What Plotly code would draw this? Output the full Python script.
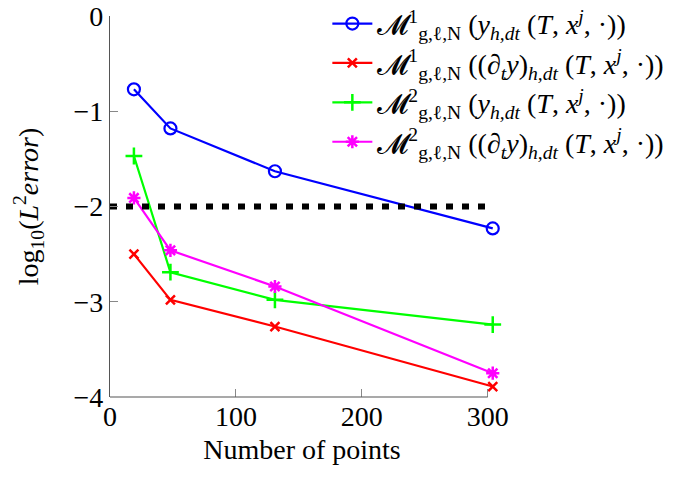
import plotly.graph_objects as go

x_points = [19, 48, 131, 304]
m1_y = [-0.77, -1.18, -1.63, -2.23]
m1_dty = [-2.50, -2.98, -3.26, -3.89]
m2_y = [-1.47, -2.69, -2.98, -3.24]
m2_dty = [-1.91, -2.46, -2.84, -3.75]
threshold_x = [0, 304]
threshold_y = [-2, -2]
x_ticks = [0, 100, 200, 300]
y_ticks = [-4, -3, -2, -1, 0]

names = [
    "𝓜<sup>1</sup><sub>g,ℓ,N</sub> (<i>y</i><sub><i>h,dt</i></sub> (<i>T</i>, <i>x</i><sup><i>j</i></sup>, ·))",
    "𝓜<sup>1</sup><sub>g,ℓ,N</sub> ((∂<sub><i>t</i></sub><i>y</i>)<sub><i>h,dt</i></sub> (<i>T</i>, <i>x</i><sup><i>j</i></sup>, ·))",
    "𝓜<sup>2</sup><sub>g,ℓ,N</sub> (<i>y</i><sub><i>h,dt</i></sub> (<i>T</i>, <i>x</i><sup><i>j</i></sup>, ·))",
    "𝓜<sup>2</sup><sub>g,ℓ,N</sub> ((∂<sub><i>t</i></sub><i>y</i>)<sub><i>h,dt</i></sub> (<i>T</i>, <i>x</i><sup><i>j</i></sup>, ·))",
]

FONT = "Liberation Serif"
fig = go.Figure()
fig.add_trace(go.Scatter(x=x_points, y=m1_y, mode="lines+markers", name=names[0], cliponaxis=False,
                         line=dict(color="#0000ff", width=2.2),
                         marker=dict(symbol="circle-open", size=12, color="#0000ff", line=dict(width=2.2))))
fig.add_trace(go.Scatter(x=x_points, y=m1_dty, mode="lines+markers", name=names[1], cliponaxis=False,
                         line=dict(color="#ff0000", width=2.2),
                         marker=dict(symbol="x-thin-open", size=9, color="#ff0000", line=dict(width=2.5))))
fig.add_trace(go.Scatter(x=x_points, y=m2_y, mode="lines+markers", name=names[2], cliponaxis=False,
                         line=dict(color="#00ff00", width=2.2),
                         marker=dict(symbol="cross-thin-open", size=12, color="#00ff00", line=dict(width=2.5))))
fig.add_trace(go.Scatter(x=x_points, y=m2_dty, mode="lines+markers", name=names[3], cliponaxis=False,
                         line=dict(color="#ff00ff", width=2.2),
                         marker=dict(symbol="asterisk-open", size=11, color="#ff00ff", line=dict(width=2.5))))
fig.add_trace(go.Scatter(x=threshold_x, y=threshold_y, mode="lines", showlegend=False,
                         line=dict(color="black", width=6, dash="7px,9px")))

# bottom axis line ends at the last tick (300), as in the reference
fig.add_shape(type="line", xref="x", yref="paper", x0=x_ticks[0], x1=x_ticks[-1], y0=0, y1=0,
              line=dict(color="#555555", width=1.2), layer="above")

fig.update_layout(
    width=687, height=480,
    margin=dict(l=110, r=193, t=16, b=83, autoexpand=False),
    paper_bgcolor="white", plot_bgcolor="white",
    font=dict(family=FONT, size=28, color="black"),
    showlegend=True,
    legend=dict(x=0.566, y=1.045, xanchor="left", yanchor="top",
                bgcolor="rgba(255,255,255,0)", font=dict(family=FONT, size=28),
                tracegroupgap=0, itemwidth=40),
    xaxis=dict(range=[0, 305], tickvals=x_ticks, ticks="inside", ticklen=8,
               tickcolor="#888888", showline=False, ticklabeloverflow="allow",
               showgrid=False, zeroline=False,
               title=dict(text="Number of points", font=dict(size=28), standoff=8)),
    yaxis=dict(range=[-4, 0], tickvals=y_ticks, ticks="inside", ticklen=8,
               tickcolor="#888888", showline=True, linecolor="#555555", linewidth=1.2,
               ticklabeloverflow="allow",
               showgrid=False, zeroline=False,
               title=dict(text="log<sub>10</sub>(<i>L</i><sup>2</sup><i>error</i>)", font=dict(size=28), standoff=26)),
)

fig.write_html("out.html")
